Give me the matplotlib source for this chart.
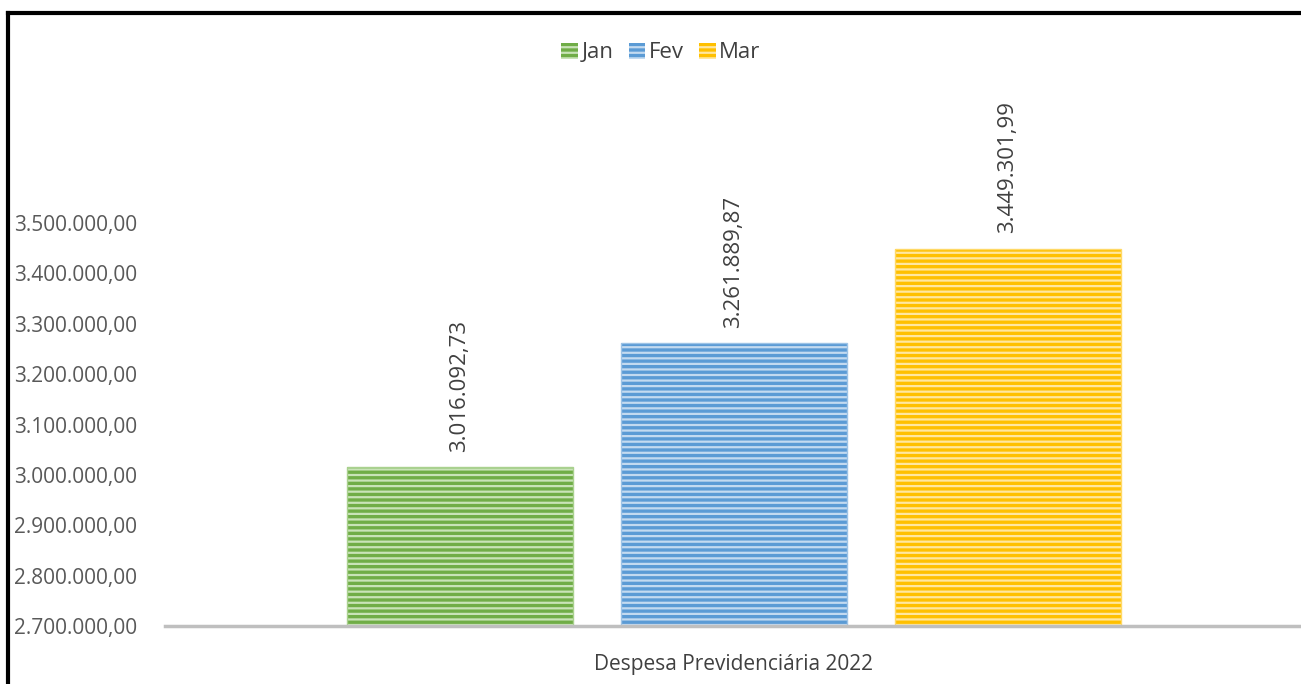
import matplotlib
matplotlib.use("Agg")
import matplotlib.pyplot as plt
from matplotlib.lines import Line2D
from matplotlib.patches import Patch

categories = ["Jan", "Fev", "Mar"]
values = [3016092.73, 3261889.87, 3449301.99]
group_label = "Despesa Previdenciária 2022"
yticks = [2700000, 2800000, 2900000, 3000000, 3100000, 3200000, 3300000, 3400000, 3500000]

colors = ["#70AD47", "#5B9BD5", "#FFC000"]
hatch_colors = ["#C9E3B8", "#C3DAF0", "#FFE7A0"]
edge_colors = ["#A9D18E", "#9DC3E6", "#FFD966"]

def br(v):
    s = f"{v:,.2f}"
    return s.replace(",", "X").replace(".", ",").replace("X", ".")

plt.rcParams['font.family'] = ['Open Sans', 'DejaVu Sans']
plt.rcParams['hatch.linewidth'] = 1.6

W, H = 1301, 684
fig = plt.figure(figsize=(W / 100, H / 100), dpi=100)
ax = fig.add_axes([165 / W, 1 - 626 / H, (1303 - 165) / W, (626 - 223) / H])

step = 274.0
width = 226.0 / step
pos = [-1, 0, 1]
for p, v, c, hc, ec in zip(pos, values, colors, hatch_colors, edge_colors):
    ax.bar(p, v - yticks[0], bottom=yticks[0], width=width, color=c,
           edgecolor=hc, hatch='---', linewidth=0)
    ax.bar(p, v - yticks[0], bottom=yticks[0], width=width, fill=False,
           edgecolor=ec, linewidth=1.0)
    ax.text(p, v + 30000, br(v), rotation=90, ha='center', va='bottom',
            fontsize=16, color='#404040', clip_on=False)

half = (1303 - 165) / 2 / step
ax.set_xlim(-half, half)
ax.set_ylim(yticks[0], yticks[-1])
ax.set_yticks(yticks)
ax.set_yticklabels([br(t) for t in yticks], fontsize=15, color='#595959', ha='left')
ax.set_xticks([0])
ax.set_xticklabels([group_label], fontsize=15, color='#404040')
ax.tick_params(axis='both', length=0)
ax.tick_params(axis='y', pad=(165 - 14) * 0.72)
ax.tick_params(axis='x', pad=20)
for s in ['top', 'right', 'left']:
    ax.spines[s].set_visible(False)
ax.spines['bottom'].set_color('#BFBFBF')
ax.spines['bottom'].set_linewidth(2.5)

handles = [Patch(facecolor=c, edgecolor=hc, hatch='---', linewidth=0)
           for c, hc in zip(colors, hatch_colors)]
fig.legend(handles, categories, loc='center', bbox_to_anchor=(661 / W, 1 - 53 / H),
           ncol=3, frameon=False, fontsize=16, handlelength=0.75, handleheight=0.75,
           handletextpad=0.15, columnspacing=0.7, labelcolor='#404040')

fig.add_artist(Line2D([8 / W, 8 / W], [0, 1 - 13 / H], color='black', lw=3,
                      transform=fig.transFigure, solid_capstyle='projecting'))
fig.add_artist(Line2D([8 / W, 1], [1 - 13 / H, 1 - 13 / H], color='black', lw=3,
                      transform=fig.transFigure, solid_capstyle='projecting'))

fig.savefig("out.png", dpi=100)
